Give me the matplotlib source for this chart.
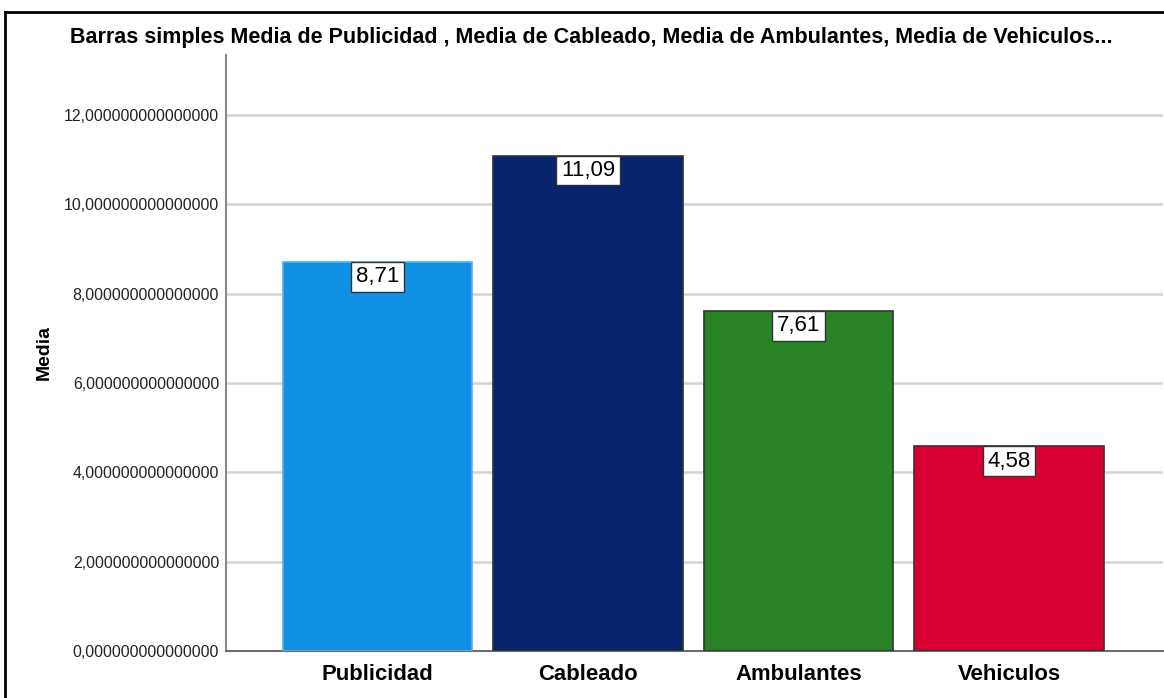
import matplotlib
matplotlib.use('Agg')
import matplotlib.pyplot as plt
from matplotlib.lines import Line2D
from matplotlib.ticker import FuncFormatter

plt.rcParams['font.family'] = ['Liberation Sans', 'DejaVu Sans']

categorias = ['Publicidad', 'Cableado', 'Ambulantes', 'Vehiculos']
medias = [8.71, 11.09, 7.61, 4.58]
colores = ['#1191e4', '#06236b', '#2a8227', '#d80032']
bordes = ['#5fb0ec', '#333333', '#333333', '#333333']
etiquetas = ['8,71', '11,09', '7,61', '4,58']
yticks = [0, 2, 4, 6, 8, 10, 12]

titulo = ('Barras simples Media de Publicidad , Media de Cableado, '
          'Media de Ambulantes, Media de Vehiculos...')

fig = plt.figure(figsize=(11.64, 6.98), dpi=100)
ax = fig.add_axes([226 / 1164, 1 - 651 / 698, (1163 - 226) / 1164, (651 - 55) / 698])

x = list(range(len(categorias)))
ax.bar(x, medias, width=0.898, color=colores, edgecolor=bordes, linewidth=1.2, zorder=3)

for xi, v, lab in zip(x, medias, etiquetas):
    ax.annotate(lab, xy=(xi, v), xytext=(0, -3.2), textcoords='offset points',
                ha='center', va='top', fontsize=16, color='black', zorder=5,
                bbox=dict(boxstyle='square,pad=0.2', facecolor='white',
                          edgecolor='#333333', linewidth=1))

ax.set_xlim(-0.7197, 3.7316)
ax.set_ylim(0, 13.34)
ax.set_yticks(yticks)
ax.yaxis.set_major_formatter(FuncFormatter(lambda v, p: ('%.15f' % v).replace('.', ',')))
ax.set_xticks(x)
ax.set_xticklabels(categorias, fontsize=15.9, fontweight='bold')
ax.tick_params(axis='y', length=0, labelsize=11.4, pad=5, labelcolor='#222222')
ax.tick_params(axis='x', length=0, pad=9.5)

ax.grid(axis='y', color='#d4d4d4', linewidth=1.8, zorder=0)
ax.set_axisbelow(True)
for s in ['top', 'right']:
    ax.spines[s].set_visible(False)
ax.spines['left'].set_color('#8a8a8a')
ax.spines['left'].set_linewidth(1.5)
ax.spines['bottom'].set_color('#6e6e6e')
ax.spines['bottom'].set_linewidth(1.5)

ax.set_ylabel('Media', fontsize=14, fontweight='bold')
ax.yaxis.set_label_coords((53 - 226) / (1163 - 226), 0.5)

fig.text(591 / 1164, 1 - 43 / 698, titulo, ha='center', va='baseline',
         fontsize=15.5, fontweight='bold')

# marco exterior (solo lados izquierdo y superior visibles)
x0, y0 = 5 / 1164, 1 - 12 / 698
fig.add_artist(Line2D([x0, x0], [0, y0], color='black', linewidth=2))
fig.add_artist(Line2D([x0, 1], [y0, y0], color='black', linewidth=2))

fig.savefig('out.png', dpi=100)
